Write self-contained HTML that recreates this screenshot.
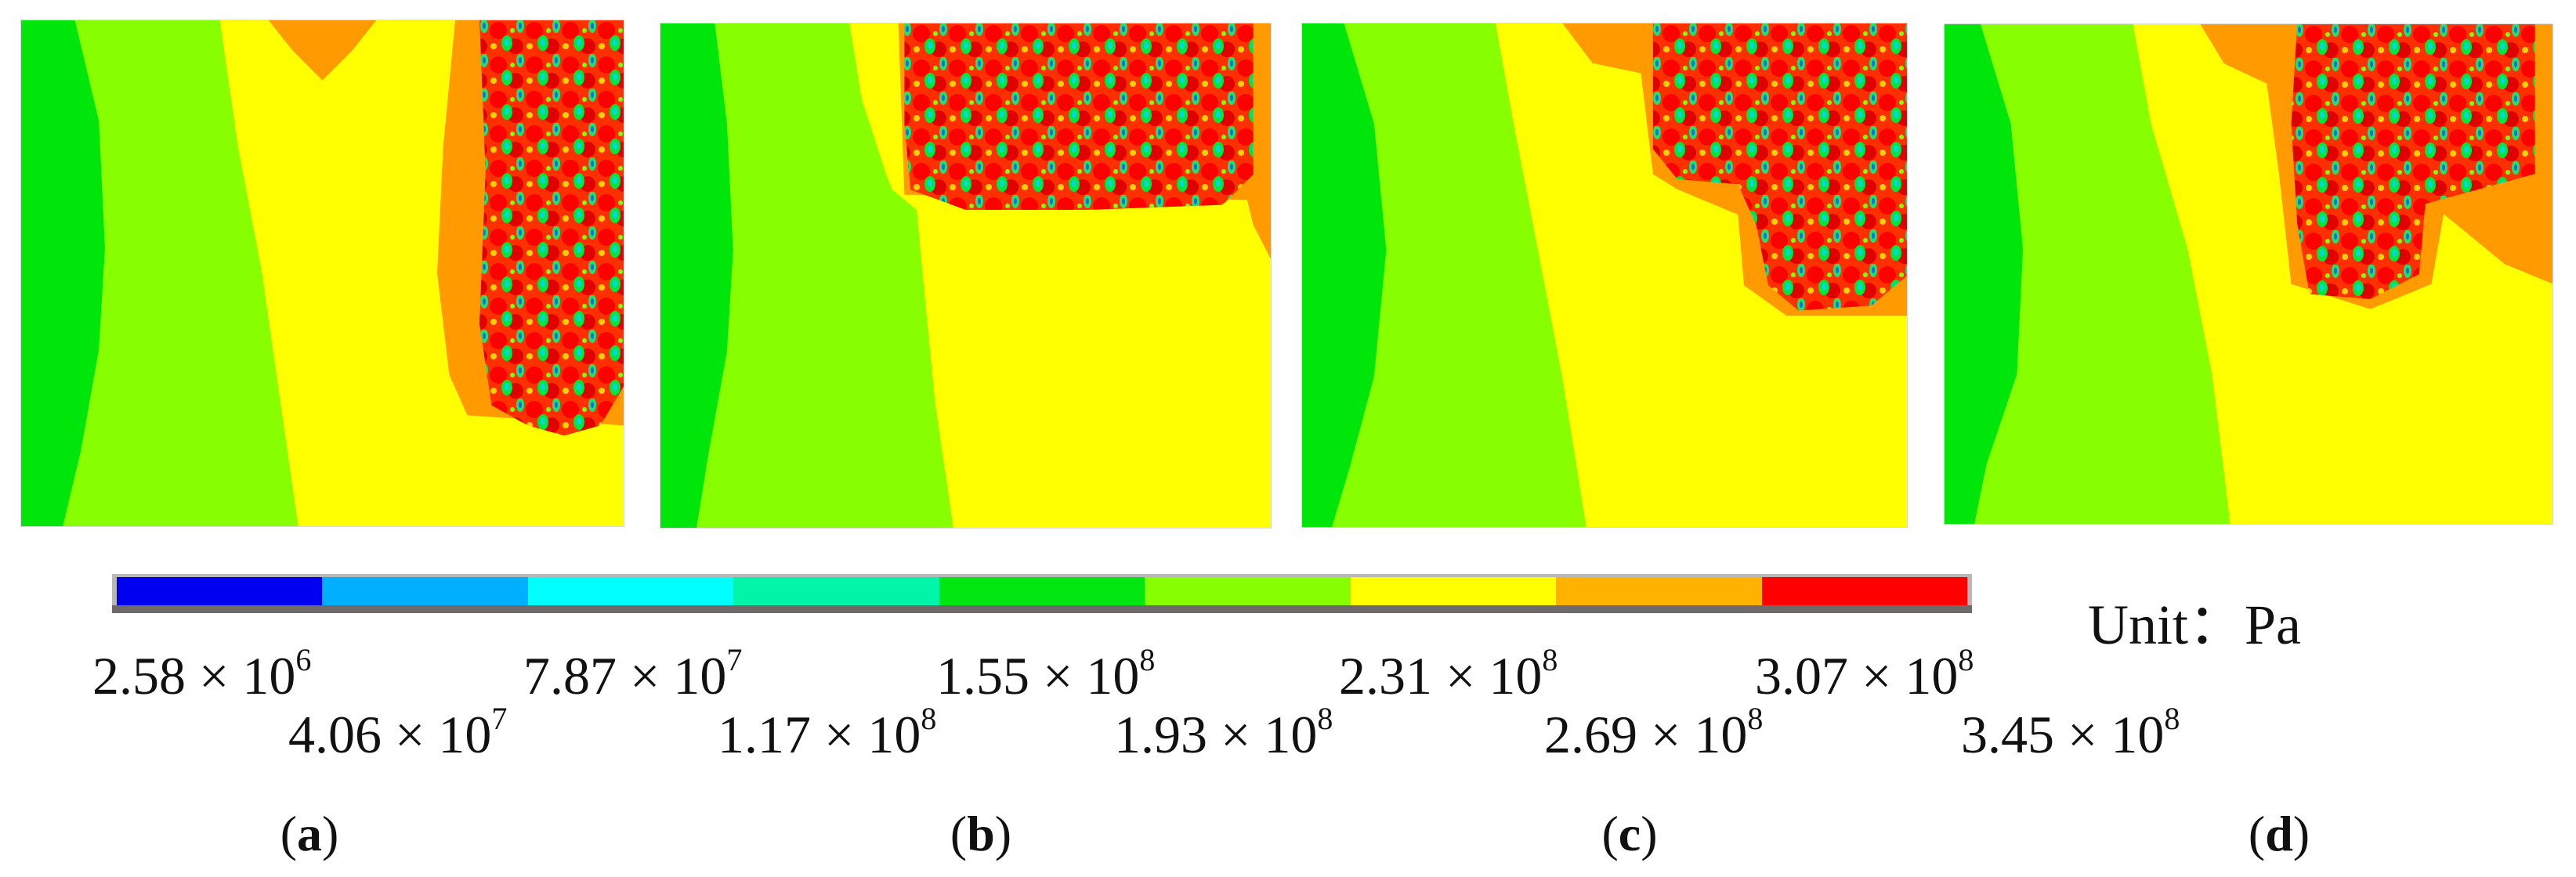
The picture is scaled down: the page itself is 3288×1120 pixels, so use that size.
<!DOCTYPE html>
<html><head><meta charset="utf-8">
<style>
html,body{margin:0;padding:0;background:#fff;}
#root{position:relative;width:3288px;height:1120px;overflow:hidden;background:#fff;font-family:"Liberation Serif",serif;color:#111;}
.panel{position:absolute;}
.lbl{position:absolute;font-size:68px;white-space:nowrap;line-height:1;}
.lbl sup{font-size:40px;position:relative;top:-6px;vertical-align:top;}
.cap{position:absolute;font-size:64px;line-height:1;transform:translateX(-50%);}
</style></head>
<body>
<div id="root">
<svg width="0" height="0" style="position:absolute">
<defs>
<pattern id="dots" patternUnits="userSpaceOnUse" width="46" height="44">
<rect width="46" height="44" fill="#ff3000"/>
<circle cx="12" cy="14" r="11" fill="#ff0000"/>
<circle cx="34" cy="34" r="10" fill="#e00000"/>
<ellipse cx="23" cy="30" rx="7" ry="10" fill="#00e63a"/>
<ellipse cx="23" cy="29" rx="3" ry="5" fill="#00d8e0"/>
<ellipse cx="40" cy="8" rx="5" ry="9" fill="#20e070"/>
<ellipse cx="40" cy="8" rx="2" ry="4" fill="#1070e0"/>
<ellipse cx="6" cy="34" rx="4" ry="4" fill="#ffd000"/>
<circle cx="30" cy="14" r="3" fill="#80ff00"/>
</pattern>
</defs>
</svg>
<div id="panels"></div>

<div id="colorbar" style="position:absolute;left:143px;top:733px;width:2374px;height:50px;background:#b8b8b8;"></div>

<div id="ticks"></div>
<div class="lbl" style="left:2665px;top:762px;font-size:72px;">Unit：Pa</div>

<div class="cap" style="left:395px;top:1033px;">(<b>a</b>)</div>
<div class="cap" style="left:1252px;top:1033px;">(<b>b</b>)</div>
<div class="cap" style="left:2080px;top:1033px;">(<b>c</b>)</div>
<div class="cap" style="left:2909px;top:1033px;">(<b>d</b>)</div>
</div>
<script>
const barColors=["#0000f0","#00b0ff","#00ffff","#00f5a8","#00e610","#88ff00","#ffff00","#ffb300","#ff0000"];
const tickMant=["2.58","4.06","7.87","1.17","1.55","1.93","2.31","2.69","3.07","3.45"];
const tickExp=["6","7","7","8","8","8","8","8","8","8"];
const tickX=[118,368,668,916,1195,1422,1709,1971,2240,2503];

const cb=document.getElementById('colorbar');
const segW=(2374-12)/barColors.length;
barColors.forEach((c,i)=>{
  const s=document.createElement('div');
  
  
  s.style.cssText=`position:absolute;left:${6+i*segW}px;top:4px;width:${segW+0.5}px;height:36px;background:${c};`;
  cb.appendChild(s);
});
const g=document.createElement('div');
g.style.cssText='position:absolute;left:0;top:40px;width:2374px;height:10px;background:#6e6a6a;';
cb.appendChild(g);

const tk=document.getElementById('ticks');
tickMant.forEach((m,i)=>{
  const d=document.createElement('div');
  d.className='lbl';
  
  
  d.style.left=tickX[i]+'px';
  d.style.top=(i%2===0?829:904)+'px';
  d.innerHTML=m+' × 10<sup>'+tickExp[i]+'</sup>';
  tk.appendChild(d);
});

const panels=[
 {n:'a',x:26,y:25,w:771,h:648,
  green:[[9,0],[13,20],[14,45],[13,65],[10,85],[7,100]],
  bound:[[33,0],[36,25],[40,50],[43,75],[46,100]],
  orange:[[41,0],[45,6],[50,12],[55,6],[59,0],[72,0],[70,25],[69,50],[71,70],[74,78],[100,80],[100,0]],
  dots:[[76,0],[100,0],[100,72],[96,80],[90,82],[84,80],[78,76],[76,60],[77,30]]},
 {n:'b',x:842,y:29,w:781,h:646,
  green:[[9,0],[11,20],[12,45],[11,65],[8,85],[6,100]],
  bound:[[31,0],[33,15],[37,30],[38,33],[42,37],[43,50],[45,75],[48,100]],
  orange:[[39,0],[100,0],[100,47],[97,40],[96,35],[40,34]],
  dots:[[40,0],[97,0],[97,30],[92,36],[70,37],[50,37],[41,33],[40,20]]},
 {n:'c',x:1661,y:29,w:774,h:645,
  green:[[7,0],[12,20],[14,45],[12,70],[8,88],[5,100]],
  bound:[[32,0],[35,20],[39,45],[43,70],[47,100]],
  orange:[[43,0],[100,0],[100,58],[80,58],[73,52],[72,38],[62,33],[58,30],[56,10],[48,8]],
  dots:[[58,0],[100,0],[100,50],[94,56],[82,57],[77,52],[75,40],[72,32],[62,31],[58,25]]},
 {n:'d',x:2481,y:30,w:778,h:640,
  green:[[6,0],[11,20],[13,45],[12,70],[7,88],[5,100]],
  bound:[[31,0],[34,20],[40,45],[44,70],[47,100]],
  orange:[[42,0],[100,0],[100,52],[92,48],[82,38],[80,52],[70,57],[57,52],[55,30],[53,12],[46,8]],
  dots:[[58,0],[97,0],[97,30],[88,33],[79,36],[78,50],[70,55],[60,54],[58,40],[57,20]]}
];
const host=document.getElementById('panels');
function pts(arr,p){return arr.map(q=>(q[0]*p.w/100).toFixed(1)+','+(q[1]*p.h/100).toFixed(1)).join(' ');}
panels.forEach(p=>{
  const NS='http://www.w3.org/2000/svg';
  const s=document.createElementNS(NS,'svg');
  s.setAttribute('class','panel');
  
  
  s.setAttribute('width',p.w);s.setAttribute('height',p.h);
  s.style.left=p.x+'px';s.style.top=p.y+'px';
  const W=p.w,H=p.h;
  let html=`<rect width="${W}" height="${H}" fill="#ffff00"/>`;
  html+=`<polygon points="0,0 ${pts(p.bound,p)} 0,${H}" fill="#88ff00"/>`;
  html+=`<polygon points="0,0 ${pts(p.green,p)} 0,${H}" fill="#00e60a"/>`;
  html+=`<polygon points="${pts(p.orange,p)}" fill="#ff9a00"/>`;
  html+=`<polygon points="${pts(p.dots,p)}" fill="url(#dots)"/>`;
  html+=`<rect x="0.5" y="0.5" width="${W-1}" height="${H-1}" fill="none" stroke="#d8d8d8" stroke-width="1"/>`;
  s.innerHTML=html;
  host.appendChild(s);
});
</script>
</body></html>
